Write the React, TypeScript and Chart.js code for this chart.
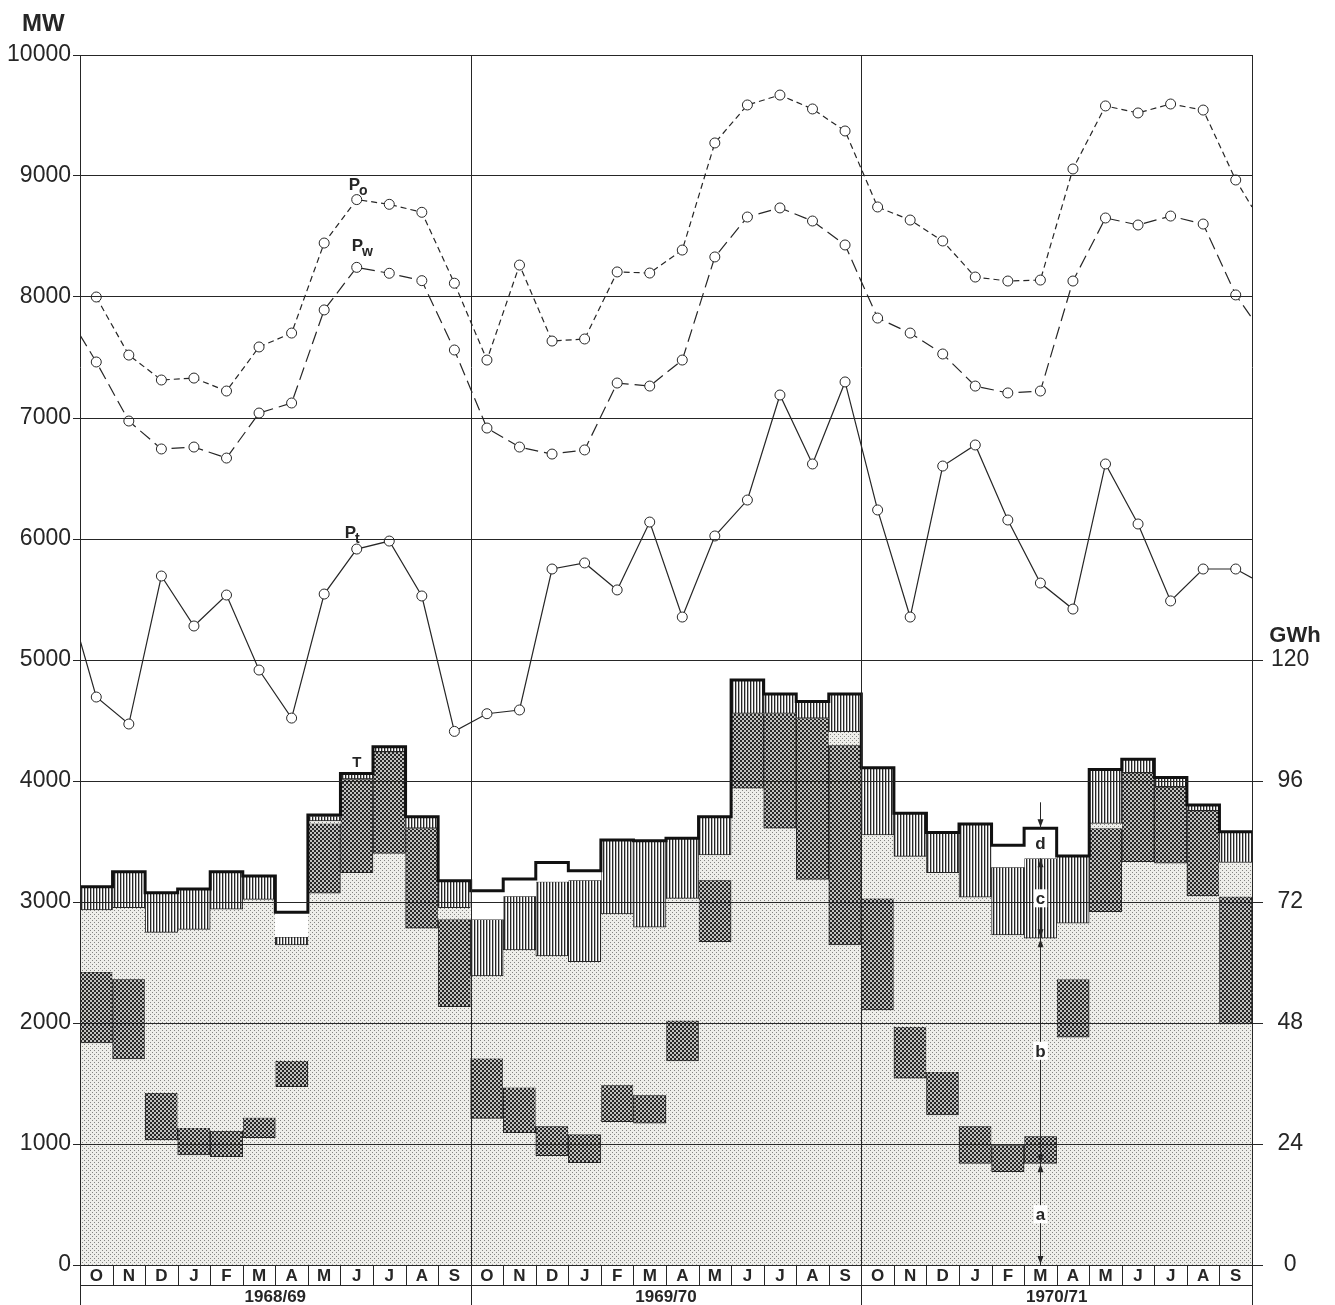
import React, { useEffect, useRef } from 'react';
import { Chart, registerables } from 'chart.js';

Chart.register(...registerables);

// ---------- data ----------
const monthLetters = ['O', 'N', 'D', 'J', 'F', 'M', 'A', 'M', 'J', 'J', 'A', 'S'];
const yearLabels = ['1968/69', '1969/70', '1970/71'];
const gwhTicks = [0, 24, 48, 72, 96, 120];

// Peak loads (MW), one value per month, Oct 1968 .. Sep 1971
const po = [
  8000, 7520, 7314, 7330, 7223, 7587, 7702, 8446, 8805, 8766, 8700, 8114,
  7479, 8264, 7636, 7653, 8207, 8198, 8388, 9273, 9587, 9669, 9554, 9372,
  8744, 8636, 8463, 8165, 8132, 8140, 9058, 9579, 9521, 9595, 9545, 8967,
];
const pw = [
  7463, 6975, 6744, 6760, 6669, 7041, 7124, 7893, 8245, 8196, 8135, 7562,
  6917, 6760, 6702, 6736, 7289, 7264, 7479, 8331, 8661, 8736, 8628, 8430,
  7826, 7702, 7529, 7264, 7207, 7223, 8132, 8653, 8595, 8669, 8603, 8017,
];
const pt = [
  4694, 4471, 5694, 5281, 5537, 4917, 4520, 5545, 5917, 5983, 5529, 4410,
  4556, 4587, 5752, 5802, 5579, 6140, 5355, 6025, 6322, 7190, 6620, 7298,
  6240, 5355, 6603, 6777, 6157, 5636, 5421, 6620, 6124, 5488, 5752, 5752,
];
// values where the curves meet the left / right frame (null = curve starts at first point)
const poEdges = [null, 8744];
const pwEdges = [7686, 7826];
const ptEdges = [5165, 5678];

// Energy layers (boundaries, in MW-equivalent units: 1000 MW = 24 GWh)
const aTop = [
  1835, 1702, 1033, 909, 895, 1052, 1474, 3072, 3242, 3402, 2783, 2135,
  1212, 1094, 903, 845, 1185, 1171, 1686, 2672, 3940, 3609, 3187, 2645,
  2107, 1543, 1240, 840, 771, 840, 1882, 2920, 3333, 3320, 3050, 1992,
];
const darkTop = [
  2424, 2364, 1424, 1135, 1110, 1219, 1689, 3650, 4017, 4243, 3609, 2857,
  1708, 1468, 1149, 1080, 1488, 1405, 2021, 3182, 4559, 4559, 4518, 4297,
  3030, 1970, 1598, 1149, 992, 1066, 2361, 3609, 4069, 3953, 3755, 3046,
];
const bTop = [
  2934, 2953, 2749, 2774, 2940, 3022, 2645, 3670, 4017, 4243, 3609, 2953,
  2388, 2603, 2554, 2507, 2901, 2791, 3030, 3388, 4559, 4559, 4518, 4408,
  3554, 3377, 3242, 3039, 2727, 2700, 2824, 3650, 4069, 3953, 3755, 3326,
];
const cTop = [
  3127, 3250, 3077, 3107, 3250, 3215, 2713, 3712, 4063, 4284, 3705, 3176,
  2857, 3050, 3169, 3182, 3512, 3507, 3526, 3705, 4835, 4719, 4656, 4719,
  4110, 3733, 3574, 3645, 3289, 3361, 3380, 4096, 4179, 4029, 3802, 3581,
];
const totalT = [
  3127, 3250, 3077, 3107, 3250, 3215, 2915, 3719, 4063, 4284, 3705, 3176,
  3093, 3190, 3326, 3259, 3512, 3507, 3526, 3705, 4835, 4719, 4656, 4719,
  4110, 3733, 3574, 3645, 3468, 3609, 3380, 4096, 4179, 4029, 3802, 3581,
];

const ANNOT_MONTH = 29; // M 1970/71

// ---------- style ----------
const INK = '#262626';
const FONT = '"Liberation Sans", Arial, sans-serif';

function makePattern(w: number, h: number, draw: (g: CanvasRenderingContext2D) => void) {
  const c = document.createElement('canvas');
  c.width = w;
  c.height = h;
  const g = c.getContext('2d')!;
  draw(g);
  return g.createPattern(c, 'repeat')!;
}

function arrowHead(ctx: CanvasRenderingContext2D, x: number, y: number, dir: number) {
  ctx.beginPath();
  ctx.moveTo(x, y);
  ctx.lineTo(x - 3, y - dir * 8);
  ctx.lineTo(x + 3, y - dir * 8);
  ctx.closePath();
  ctx.fill();
}

function boxedLetter(ctx: CanvasRenderingContext2D, t: string, x: number, y: number) {
  ctx.font = `bold 17px ${FONT}`;
  const w = ctx.measureText(t).width;
  ctx.fillStyle = '#ffffff';
  ctx.fillRect(x - w / 2 - 2, y - 9, w + 4, 18);
  ctx.fillStyle = INK;
  ctx.textAlign = 'center';
  ctx.textBaseline = 'middle';
  ctx.fillText(t, x, y + 1);
}

function pLabel(ctx: CanvasRenderingContext2D, sub: string, x: number, y: number, clear: boolean) {
  ctx.font = `bold 17px ${FONT}`;
  const w = ctx.measureText('P').width;
  ctx.font = `bold 14px ${FONT}`;
  const ws = ctx.measureText(sub).width;
  if (clear) {
    ctx.fillStyle = '#ffffff';
    ctx.fillRect(x - 7, y - 12, w + ws + 16, 12);
  }
  ctx.fillStyle = INK;
  ctx.textAlign = 'left';
  ctx.textBaseline = 'alphabetic';
  ctx.font = `bold 17px ${FONT}`;
  ctx.fillText('P', x, y);
  ctx.font = `bold 14px ${FONT}`;
  ctx.fillText(sub, x + w - 1, y + 5);
}

const decorPlugin = {
  id: 'decor',
  afterDatasetsDraw(chart: any) {
    const { ctx, chartArea, scales } = chart;
    const x = scales.x;
    ctx.save();
    ctx.strokeStyle = INK;
    ctx.lineWidth = 1;
    for (let k = 0; k <= yearLabels.length; k++) {
      const px = Math.round(x.getPixelForValue(k * 12)) + 0.5;
      ctx.beginPath();
      ctx.moveTo(px, chartArea.top);
      ctx.lineTo(px, chart.height);
      ctx.stroke();
    }
    ctx.restore();
  },
  afterDraw(chart: any) {
    const { ctx, chartArea, scales } = chart;
    const x = scales.x;
    const y = scales.y;
    ctx.save();
    ctx.fillStyle = INK;
    ctx.strokeStyle = INK;
    ctx.lineWidth = 1;

    // axis units
    ctx.font = `bold 24px ${FONT}`;
    ctx.textAlign = 'left';
    ctx.textBaseline = 'alphabetic';
    ctx.fillText('MW', 22, 31);
    ctx.font = `bold 22px ${FONT}`;
    ctx.textAlign = 'center';
    ctx.fillText('GWh', 1295, y.getPixelForValue(5000) - 18);

    // month band
    const bandTop = chartArea.bottom;
    const bandMid = bandTop + 20;
    ctx.beginPath();
    ctx.moveTo(chartArea.left, Math.round(bandMid) + 0.5);
    ctx.lineTo(chartArea.right, Math.round(bandMid) + 0.5);
    ctx.stroke();
    for (let i = 0; i <= 36; i++) {
      const px = Math.round(x.getPixelForValue(i)) + 0.5;
      ctx.beginPath();
      ctx.moveTo(px, bandTop);
      ctx.lineTo(px, bandMid);
      ctx.stroke();
    }
    ctx.textAlign = 'center';
    ctx.textBaseline = 'middle';
    ctx.font = `bold 17px ${FONT}`;
    for (let i = 0; i < 36; i++) {
      ctx.fillText(monthLetters[i % 12], x.getPixelForValue(i + 0.5), bandTop + 11);
    }
    ctx.font = `bold 17px ${FONT}`;
    yearLabels.forEach((lab, k) => {
      ctx.fillText(lab, x.getPixelForValue(k * 12 + 6), bandMid + 12);
    });

    // curve labels
    const px8 = x.getPixelForValue(8.5);
    pLabel(ctx, 'o', px8 - 8, y.getPixelForValue(po[8]) - 10, false);
    pLabel(ctx, 'w', px8 - 5, y.getPixelForValue(pw[8]) - 16, false);
    pLabel(ctx, 't', px8 - 12, y.getPixelForValue(6000) - 1, true);

    // T label
    ctx.font = `bold 15px ${FONT}`;
    ctx.textAlign = 'center';
    ctx.textBaseline = 'alphabetic';
    ctx.fillStyle = INK;
    ctx.fillText('T', px8, y.getPixelForValue(totalT[8]) - 6);

    // a/b/c/d dimension arrows
    const m = ANNOT_MONTH;
    const ax = Math.round(x.getPixelForValue(m + 0.5)) + 0.5;
    const yT = y.getPixelForValue(totalT[m]);
    const yC = y.getPixelForValue(cTop[m]);
    const yB = y.getPixelForValue(bTop[m]);
    const yA = y.getPixelForValue(aTop[m]);
    const y0 = y.getPixelForValue(0);
    ctx.beginPath();
    ctx.moveTo(ax, yT - 26);
    ctx.lineTo(ax, yT);
    ctx.moveTo(ax, yC);
    ctx.lineTo(ax, y0);
    ctx.stroke();
    arrowHead(ctx, ax, yT - 1, 1);
    arrowHead(ctx, ax, yC + 1, -1);
    arrowHead(ctx, ax, yB - 1, 1);
    arrowHead(ctx, ax, yB + 1, -1);
    arrowHead(ctx, ax, yA - 1, 1);
    arrowHead(ctx, ax, yA + 1, -1);
    arrowHead(ctx, ax, y0 - 1, 1);
    boxedLetter(ctx, 'd', ax, (yT + yC) / 2);
    boxedLetter(ctx, 'c', ax, (yC + yB) / 2);
    boxedLetter(ctx, 'b', ax, (yB + yA) / 2);
    boxedLetter(ctx, 'a', ax, (yA + y0) / 2);
    ctx.restore();
  },
};

export default function App() {
  const ref = useRef<HTMLCanvasElement>(null);

  useEffect(() => {
    const canvas = ref.current!;
    const light = makePattern(4, 4, (g) => {
      g.fillStyle = '#eeeeea';
      g.fillRect(0, 0, 4, 4);
      g.fillStyle = '#858583';
      g.fillRect(0, 0, 1, 1);
      g.fillRect(2, 2, 1, 1);
    });
    const dark = makePattern(4, 4, (g) => {
      g.fillStyle = '#c2c2c0';
      g.fillRect(0, 0, 4, 4);
      g.fillStyle = '#272727';
      g.fillRect(0, 0, 2, 2);
      g.fillRect(2, 2, 2, 2);
    });
    const vert = makePattern(3, 4, (g) => {
      g.fillStyle = '#ffffff';
      g.fillRect(0, 0, 3, 4);
      g.fillStyle = '#262626';
      g.fillRect(0, 0, 1, 4);
      g.fillStyle = '#b5b5b5';
      g.fillRect(1, 0, 1, 4);
    });

    const zero = totalT.map(() => 0);
    const barSet = (label: string, lo: number[], hi: number[], bg: any, bw: any) => ({
      type: 'bar' as const,
      label,
      data: lo.map((v, i) => ({ x: i + 0.5, y: [v, hi[i]] })),
      backgroundColor: bg,
      borderColor: INK,
      borderWidth: bw,
      borderSkipped: false,
      grouped: false,
      categoryPercentage: 1,
      barPercentage: 1,
      inflateAmount: 0.3,
      order: 10,
    });

    const curve = (label: string, vals: number[], edges: (number | null)[], dash: number[]) => {
      const data: { x: number; y: number }[] = [];
      const radius: number[] = [];
      if (edges[0] !== null) {
        data.push({ x: 0, y: edges[0] as number });
        radius.push(0);
      }
      vals.forEach((v, i) => {
        data.push({ x: i + 0.5, y: v });
        radius.push(5);
      });
      if (edges[1] !== null) {
        data.push({ x: 36, y: edges[1] as number });
        radius.push(0);
      }
      return {
        type: 'line' as const,
        label,
        data,
        borderColor: INK,
        borderWidth: 1.2,
        borderDash: dash,
        pointRadius: radius,
        pointBackgroundColor: '#ffffff',
        pointBorderColor: INK,
        pointBorderWidth: 1,
        fill: false,
        tension: 0,
        order: 0,
      };
    };

    const tLine = {
      type: 'line' as const,
      label: 'T',
      data: [...totalT.map((v, i) => ({ x: i, y: v })), { x: 36, y: totalT[35] }],
      borderColor: '#111111',
      borderWidth: 3,
      stepped: 'before' as const,
      pointRadius: 0,
      fill: false,
      order: 1,
    };

    const chart = new Chart(canvas, {
      type: 'bar',
      data: {
        datasets: [
          curve('Po', po, poEdges, [6, 4]) as any,
          curve('Pw', pw, pwEdges, [13, 6]) as any,
          curve('Pt', pt, ptEdges, []) as any,
          tLine as any,
          barSet('d', cTop, totalT, '#ffffff', 0),
          barSet('c', bTop, cTop, vert, 1),
          barSet('b', darkTop, bTop, light, 0),
          barSet('dark', aTop, darkTop, dark, 1),
          barSet('a', zero, aTop, light, 0),
        ],
      },
      plugins: [decorPlugin],
      options: {
        responsive: false,
        animation: false,
        events: [],
        layout: { padding: { top: 55, bottom: 40, left: 0, right: 0 } },
        plugins: { legend: { display: false }, tooltip: { enabled: false } },
        scales: {
          x: {
            type: 'linear',
            min: 0,
            max: 36,
            offset: false,
            display: false,
          },
          y: {
            type: 'linear',
            position: 'left',
            min: 0,
            max: 10000,
            z: 1,
            ticks: {
              stepSize: 1000,
              color: INK,
              padding: 2,
              font: { family: FONT, size: 23 },
              callback: (v: any) => String(v),
            },
            grid: { color: INK, lineWidth: 1, tickLength: 7, z: 1 } as any,
            border: { display: false },
            afterFit: (s: any) => {
              s.width = 80;
            },
          },
          y2: {
            type: 'linear',
            position: 'right',
            min: 0,
            max: 240,
            afterBuildTicks: (s: any) => {
              s.ticks = gwhTicks.map((v) => ({ value: v }));
            },
            ticks: {
              color: INK,
              padding: 8,
              crossAlign: 'center',
              font: { family: FONT, size: 23 },
              callback: (v: any) => String(v),
            },
            grid: { drawOnChartArea: false, color: INK, lineWidth: 1, tickLength: 11 },
            border: { display: false },
            afterFit: (s: any) => {
              s.width = 83;
            },
          },
        },
      } as any,
    });

    return () => chart.destroy();
  }, []);

  return (
    <div style={{ position: 'absolute', left: 0, top: 0, width: 1335, height: 1305, background: '#ffffff' }}>
      <canvas ref={ref} width={1335} height={1305} style={{ width: 1335, height: 1305, display: 'block' }} />
    </div>
  );
}
